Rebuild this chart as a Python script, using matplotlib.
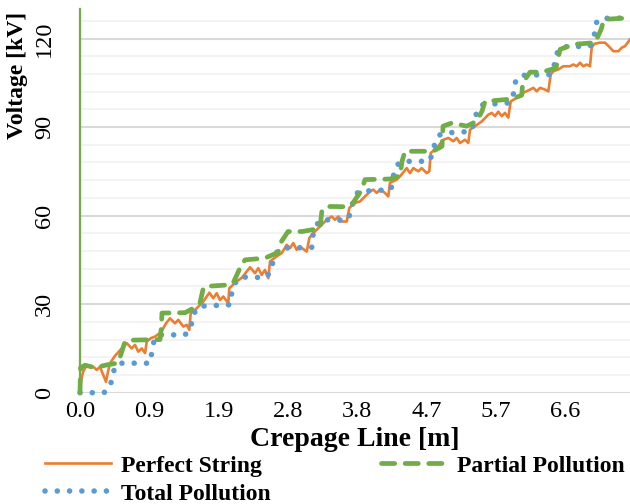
"""
Voltage distribution along the crepage line of an insulator string
for a clean string, partial pollution and total pollution.
"""

import matplotlib
matplotlib.use("Agg")
import matplotlib.pyplot as plt
from matplotlib.ticker import MultipleLocator, FixedLocator

# ── data: crepage distance [m] and voltage [kV] ─────────────────────────────
perfect_x = [
    0.000, 0.014, 0.041, 0.091, 0.136, 0.181, 0.228, 0.272, 0.317, 0.354,
    0.381, 0.409, 0.477, 0.568, 0.636, 0.704, 0.749, 0.794, 0.841, 0.886,
    0.909, 0.967, 1.022, 1.104, 1.172, 1.226, 1.294, 1.339, 1.407, 1.454, 1.489,
    1.508, 1.590, 1.680, 1.762, 1.816, 1.862, 1.907, 1.952, 2.020,
    2.034, 2.135, 2.207, 2.316, 2.384, 2.429, 2.475, 2.520, 2.565,
    2.589, 2.680, 2.748, 2.816, 2.861, 2.906, 2.952, 2.997, 3.089,
    3.124, 3.179, 3.247, 3.361, 3.429, 3.474, 3.519, 3.565, 3.634,
    3.669, 3.747, 3.815, 3.883, 3.951, 3.996, 4.042, 4.087, 4.155, 4.200,
    4.223, 4.315, 4.360, 4.451, 4.496, 4.541, 4.609, 4.655, 4.723, 4.759,
    4.778, 4.860, 4.950, 5.018, 5.086, 5.132, 5.177, 5.245, 5.290,
    5.313, 5.381, 5.473, 5.563, 5.609, 5.654, 5.699, 5.745, 5.790, 5.835,
    5.868, 5.950, 6.040, 6.131, 6.176, 6.222, 6.267, 6.335, 6.380,
    6.413, 6.448, 6.516, 6.584, 6.676, 6.721, 6.767, 6.812, 6.857, 6.903, 6.948,
    6.971, 7.007, 7.084, 7.153, 7.221, 7.266, 7.334, 7.380, 7.425, 7.493,
]
perfect_kv = [
    0.0, 4.0, 7.0, 9.4, 9.0, 8.8, 7.7, 8.8, 6.0, 3.7,
    7.0, 10.0, 12.5, 15.0, 16.8, 15.0, 16.2, 13.9, 15.0, 13.4,
    17.3, 18.5, 19.0, 20.5, 23.5, 25.2, 23.5, 24.7, 22.4, 23.0, 21.3,
    26.9, 28.6, 30.9, 33.9, 32.0, 33.7, 31.4, 32.6, 30.3,
    35.4, 37.7, 39.0, 42.5, 40.5, 42.2, 39.9, 41.6, 38.8,
    44.5, 46.2, 47.3, 50.1, 49.0, 50.7, 48.4, 49.5, 47.8,
    52.4, 54.1, 55.8, 58.6, 59.7, 58.6, 59.7, 58.0, 58.0,
    62.6, 64.3, 64.8, 66.5, 68.2, 68.8, 67.7, 68.8, 67.7, 66.5,
    71.1, 72.2, 73.3, 76.1, 74.4, 76.1, 75.0, 76.1, 74.4, 75.0,
    81.2, 82.9, 85.7, 86.3, 85.2, 86.3, 84.6, 85.7, 84.6,
    89.1, 90.3, 91.9, 94.2, 94.8, 93.7, 95.2, 93.7, 94.8, 93.2,
    98.7, 99.9, 101.6, 102.7, 103.3, 102.1, 103.3, 102.7, 102.1,
    107.8, 108.9, 109.5, 110.6, 110.6, 111.2, 110.6, 111.8, 110.6, 111.2, 110.6,
    116.9, 118.2, 118.6, 118.6, 116.9, 115.7, 115.7, 116.9, 117.4, 119.7,
]

partial_x = [
    0.000, 0.007, 0.068, 0.204, 0.381, 0.504, 0.545, 0.613, 0.681, 1.090,
    1.104, 1.117, 1.431, 1.540, 1.635, 1.676, 1.703, 2.016, 2.084, 2.193,
    2.248, 2.520, 2.698, 2.738, 2.834, 3.025, 3.161, 3.270, 3.297, 3.406,
    3.651, 3.719, 3.838, 3.883, 4.223, 4.360, 4.387, 4.428, 4.809, 4.932,
    4.946, 5.068, 5.268, 5.405, 5.477, 5.518, 5.885, 6.018, 6.031, 6.131,
    6.291, 6.485, 6.540, 6.717, 7.016, 7.098, 7.139, 7.493,
]
partial_kv = [
    0.0, 8.5, 9.3, 8.5, 9.5, 10.0, 12.0, 17.3, 17.8, 18.0,
    21.0, 27.0, 27.1, 28.6, 30.5, 35.0, 36.0, 36.5, 37.0, 43.0,
    45.0, 45.6, 47.5, 51.0, 54.6, 54.6, 55.2, 55.8, 62.0, 63.1,
    63.0, 64.3, 68.7, 72.2, 72.4, 73.5, 78.4, 81.8, 81.8, 83.5,
    90.3, 91.4, 90.3, 92.0, 95.4, 98.7, 99.5, 100.8, 105.0, 108.6,
    108.6, 110.0, 116.3, 118.0, 118.6, 123.0, 126.5, 127.0,
]

total_x = [
    0.000, 0.327, 0.409, 0.477, 0.545, 0.954, 0.981, 1.008, 1.063, 1.431,
    1.508, 1.535, 1.590, 1.635, 2.044, 2.067, 2.112, 2.180, 2.534, 2.612,
    2.634, 2.702, 2.752, 3.157, 3.170, 3.202, 3.270, 3.634, 3.702, 3.723,
    3.792, 4.237, 4.268, 4.305, 4.373, 4.759, 4.814, 4.837, 4.905, 4.973,
    5.313, 5.341, 5.381, 5.426, 5.490, 5.858, 5.903, 5.926, 5.995, 6.403,
    6.448, 6.471, 6.516, 6.580, 6.948, 7.007, 7.016, 7.084, 7.493,
]
total_kv = [
    0.0, 0.0, 2.0, 9.0, 10.0, 10.0, 14.0, 17.6, 19.6, 19.6,
    21.8, 25.8, 28.6, 29.3, 29.8, 33.7, 37.1, 39.2, 39.0, 41.6,
    45.6, 48.4, 49.0, 49.2, 52.9, 55.8, 58.6, 58.4, 61.4, 65.4,
    68.2, 68.8, 73.3, 76.7, 78.4, 78.4, 81.8, 85.2, 87.4, 88.0,
    88.5, 89.1, 93.1, 96.5, 97.6, 98.2, 101.0, 105.0, 107.5, 107.8,
    109.0, 112.6, 116.3, 117.2, 117.4, 120.5, 124.8, 126.8, 127.0,
]

x_ticks = [0.0, 0.944, 1.888, 2.832, 3.776, 4.72, 5.664, 6.608]
x_tick_labels = ["0.0", "0.9", "1.9", "2.8", "3.8", "4.7", "5.7", "6.6"]
y_ticks = [0, 30, 60, 90, 120]

ORANGE = "#ED7D31"
GREEN = "#70AD47"
BLUE = "#5B9BD5"
FONT = "Liberation Serif"

plt.rcParams["font.family"] = FONT

fig = plt.figure(figsize=(6.3, 5.04), dpi=100)
ax = fig.add_axes([80 / 630, (504 - 392.7) / 504, 550 / 630, 383.7 / 504])

ax.plot(perfect_x, perfect_kv, color=ORANGE, lw=1.9, solid_joinstyle="round",
        clip_on=False, zorder=3, label="Perfect String")
ax.plot(total_x, total_kv, color=BLUE, lw=4.0, linestyle=(0, (0.01, 2.2)),
        dash_capstyle="round", clip_on=False, zorder=4, label="Total Pollution")
ax.plot(partial_x, partial_kv, color=GREEN, lw=3.4, linestyle=(0, (2.8, 2.2)),
        dash_capstyle="round", clip_on=False, zorder=5, label="Partial Pollution")

ax.set_xlim(0, 7.493)
ax.set_ylim(0, 130)

ax.yaxis.set_major_locator(FixedLocator(y_ticks))
ax.yaxis.set_minor_locator(MultipleLocator(6))
ax.grid(which="minor", axis="y", color="#f2f2f2", lw=1.3, zorder=0)
ax.grid(which="major", axis="y", color="#d9d9d9", lw=1.5, zorder=0)
ax.grid(axis="x", visible=False)
ax.set_axisbelow(True)

ax.set_xticks(x_ticks)
ax.set_xticklabels(x_tick_labels)
ax.tick_params(axis="both", which="both", length=0, labelsize=17.5)
ax.tick_params(axis="x", pad=6)
ax.tick_params(axis="y", pad=18)
for lbl in ax.get_yticklabels():
    lbl.set_rotation(90)
    lbl.set_va("center")

for side in ("top", "right", "bottom"):
    ax.spines[side].set_visible(False)
ax.spines["left"].set_color(GREEN)
ax.spines["left"].set_linewidth(1.6)

fig.text(355 / 630, 1 - 439 / 504, "Crepage Line [m]", ha="center", va="center",
         fontsize=20, fontweight="bold")
fig.text(18 / 630, 1 - 75 / 504, "Voltage [kV]", ha="center", va="center",
         rotation=90, fontsize=17, fontweight="bold")

handles, labels = ax.get_legend_handles_labels()
order = [0, 1, 2]  # Perfect, Total (first column), Partial (second column)
fig.legend([handles[i] for i in order], [labels[i] for i in order],
           ncol=2, loc="upper left", bbox_to_anchor=(45 / 630, 1 - 455 / 504),
           frameon=False, prop={"family": FONT, "weight": "bold", "size": 17},
           handlelength=2.8, handletextpad=0.42, columnspacing=4.65,
           labelspacing=0.28, borderpad=0, borderaxespad=0)

fig.savefig("out.png", dpi=100)
